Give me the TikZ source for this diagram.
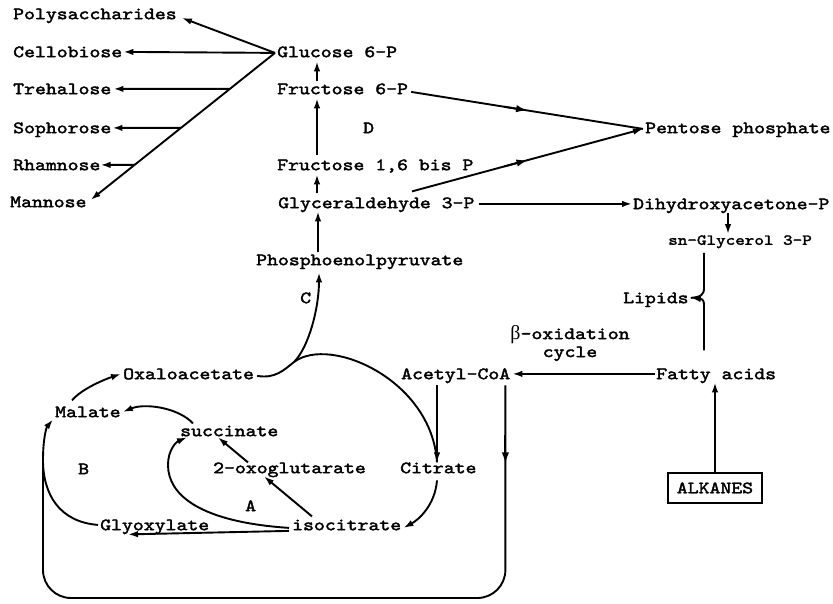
\documentclass[tikz,border=0pt]{standalone}
\usepackage{fontspec}
\newfontfamily\cour{lmmono10-regular.otf}[FakeStretch=1.2, FakeBold=2.2]
\newfontfamily\grk{Liberation Serif}
\usetikzlibrary{arrows.meta,calc}
\begin{document}
\begin{tikzpicture}[x=1pt,y=-1pt,
  fnt/.style={font=\cour\fontsize{17.3}{18}\selectfont},
  txt/.style={fnt, anchor=base west, inner sep=0pt, text height=10.6pt, text depth=0pt},
  ln/.style={line width=1.9pt},
  tipA/.tip={Latex[length=10pt,width=6.5pt]},
  arr/.style={ln, -tipA},
  midtip/.style={line width=1.9pt, -{Latex[length=11pt,width=7.5pt]}},
]
\useasboundingbox (0,0) rectangle (833,604);

% ---- nodes ----
\node[txt] (poly)  at (13,19.2)  {Polysaccharides};
\node[txt] (cello) at (13,57.2)  {Cellobiose};
\node[txt] (treh)  at (13,94.2)  {Trehalose};
\node[txt] (soph)  at (13,133.2) {Sophorose};
\node[txt] (rham)  at (13,170.2) {Rhamnose};
\node[txt] (mann)  at (10,207.2) {Mannose};
\node[txt] (g6p)   at (277,57.2) {Glucose 6-P};
\node[txt] (f6p)   at (277,94.2) {Fructose 6-P};
\node[txt] (dlab)  at (363,133.2) {D};
\node[txt] (fbp)   at (277,170.2) {Fructose 1,6 bis P};
\node[txt] (gap)   at (278,208.2) {Glyceraldehyde 3-P};
\node[txt] (pep)   at (256,265.2) {Phosphoenolpyruvate};
\node[txt] (clab)  at (300,303.2) {C};
\node[txt] (pent)  at (645,133.2) {Pentose phosphate};
\node[txt] (dhap)  at (633,209.2) {Dihydroxyacetone-P};
\node[txt, text height=9.5pt, font=\cour\fontsize{15.2}{18}\selectfont] (glyc) at (668,244.8) {sn-Glycerol 3-P};
\node[txt] (lip)   at (623,303.2) {Lipids};
\node[anchor=center, inner sep=0pt, align=center, fnt] (beta) at (570,343) {{\grk\fontsize{20}{18}\selectfont β}-oxidation\\cycle};
\node[txt] (fatty) at (656,379.2) {Fatty acids};
\node[txt] (acoa)  at (401,379.2) {Acetyl-CoA};
\node[txt] (oaa)   at (123,379.2) {Oxaloacetate};
\node[txt] (mal)   at (55,417.2)  {Malate};
\node[txt] (succ)  at (180,436.2) {succinate};
\node[txt] (blab)  at (78,474.2)  {B};
\node[txt] (oxo)   at (213,473.2) {2-oxoglutarate};
\node[txt] (cit)   at (400,473.2) {Citrate};
\node[txt] (alab)  at (245,511.2) {A};
\node[txt] (glyox) at (100,530.2) {Glyoxylate};
\node[txt] (iso)   at (292,530.2) {isocitrate};
\node[draw, line width=1.5pt, inner sep=0pt, minimum width=94pt, minimum height=30pt, fnt] (alk) at (715,488) {ALKANES};

% ---- glucose fan ----
\coordinate (fan) at ($(g6p.west)+(-2,1)$);
\coordinate (mtip) at ($(mann.east)+(4,-2)$);
\draw[arr] (fan) -- ($(poly.east)+(5,4)$);
\draw[arr] (fan) -- ($(cello.east)+(1,0)$);
\draw[arr] (fan) -- (mtip);
\draw[arr] (intersection of fan--mtip and treh.east--f6p.west) -- ($(treh.east)+(2,0)$);
\draw[arr] (intersection of fan--mtip and soph.east--dlab.west) -- ($(soph.east)+(1,0)$);
\draw[arr] (intersection of fan--mtip and rham.east--fbp.west) -- ($(rham.east)+(0,0)$);

% ---- glycolysis column ----
\draw[arr] ($(f6p.north west)+(40,-2)$) -- ($(g6p.south west)+(40,4)$);
\draw[arr] ($(fbp.north west)+(40,-4)$) -- ($(f6p.south west)+(40,4)$);
\draw[arr] ($(gap.north west)+(39,-4)$) -- ($(fbp.south west)+(40,4)$);
\draw[arr] ($(pep.north west)+(62,-2)$) -- ($(gap.south west)+(40,3)$);

% ---- pentose phosphate ----
\coordinate (pin) at ($(pent.west)+(-2,1)$);
\coordinate (fs) at ($(f6p.east)+(3,3)$);
\coordinate (gs) at ($(gap.north west)+(134,-6)$);
\coordinate (fm) at ($(fs)!0.5!(pin)$);
\coordinate (gm) at ($(gs)!0.5!(pin)$);
\draw[ln] (fs) -- (pin);
\draw[arr] (gs) -- (pin);
\draw[midtip] ($(fs)!0.40!(pin)$) -- (fm);
\draw[midtip] ($(gs)!0.40!(pin)$) -- (gm);

% ---- DHAP / lipids ----
\draw[arr] ($(gap.east)+(4,1)$) -- ($(dhap.west)+(-1,0)$);
\draw[arr] ($(dhap.south west)+(95,4)$) -- ($(glyc.north west)+(60,-1)$);
\coordinate (lipt) at ($(lip.east)+(2,0)$);
\draw[ln] ($(glyc.south west)+(36,8)$) -- ++(0,35) .. controls +(0,7) and +(10,-1) .. (lipt);
\draw[arr] ($(fatty.north west)+(48,-18)$) -- ++(0,-45) .. controls +(0,-7) and +(10,1) .. (lipt);

% ---- fatty acids / acetyl-CoA ----
\draw[arr] ($(fatty.west)+(-1,0)$) -- ($(acoa.east)+(2,0)$);
\draw[arr] (alk.north) -- ($(alk.north |- fatty.south)+(0,3)$);
\draw[arr] ($(acoa.south west)+(36,6)$) -- ($(cit.north west)+(37,0)$);

% ---- big loop ----
\coordinate (lbot) at (43,598);
\coordinate (ls) at ($(acoa.south east)+(-5,6)$);
\coordinate (lm) at ($(ls)+(0,78)$);
\draw[ln, rounded corners=28pt] (ls) -- (ls |- lbot) -- (lbot) -- (43,455);
\draw[midtip] ($(ls)+(0,50)$) -- (lm);

% ---- glyoxylate cycle ----
\draw[arr] ($(glyox.west)+(-2,0)$) .. controls (60,522) and (43,495) .. (43,460) .. controls (43,440) and (46,428) .. ($(mal.south west)+(-2,2)$);
\draw[arr] ($(mal.north west)+(17,-6)$) .. controls +(10,-12) and +(-15,5) .. ($(oaa.west)+(-2,0)$);
\draw[arr] ($(succ.north west)+(13,-2)$) .. controls +(-15,-16) and +(22,-9) .. ($(mal.east)+(2,0)$);
\draw[arr] ($(iso.west)+(-3,3)$) .. controls (200,522) and (168,495) .. (168,465) .. controls (168,450) and (176,442) .. ($(succ.south west)+(7,1)$);
\draw[arr] ($(iso.west)+(-3,6)$) -- ($(glyox.south west)+(28,4)$);
\draw[arr] ($(iso.north west)+(20,-3)$) -- ($(oxo.south west)+(51,3)$);
\draw[arr] ($(oxo.north west)+(35,0)$) -- ($(succ.south west)+(38,1)$);
\draw[arr] ($(cit.south west)+(37,7)$) .. controls +(-2,25) and +(15,-8) .. ($(iso.east)+(2,3)$);

% ---- oxaloacetate branches ----
\coordinate (fork) at (294,362);
\draw[ln] ($(oaa.east)+(3,2)$) .. controls +(18,3) and +(-10,8) .. (fork);
\draw[arr] (fork) .. controls +(15,-15) and +(0,35) .. ($(pep.south west)+(63,7)$);
\draw[ln] (fork) .. controls (330,335) and (432,380) .. ($(cit.north west)+(37,0)$);
\end{tikzpicture}
\end{document}
